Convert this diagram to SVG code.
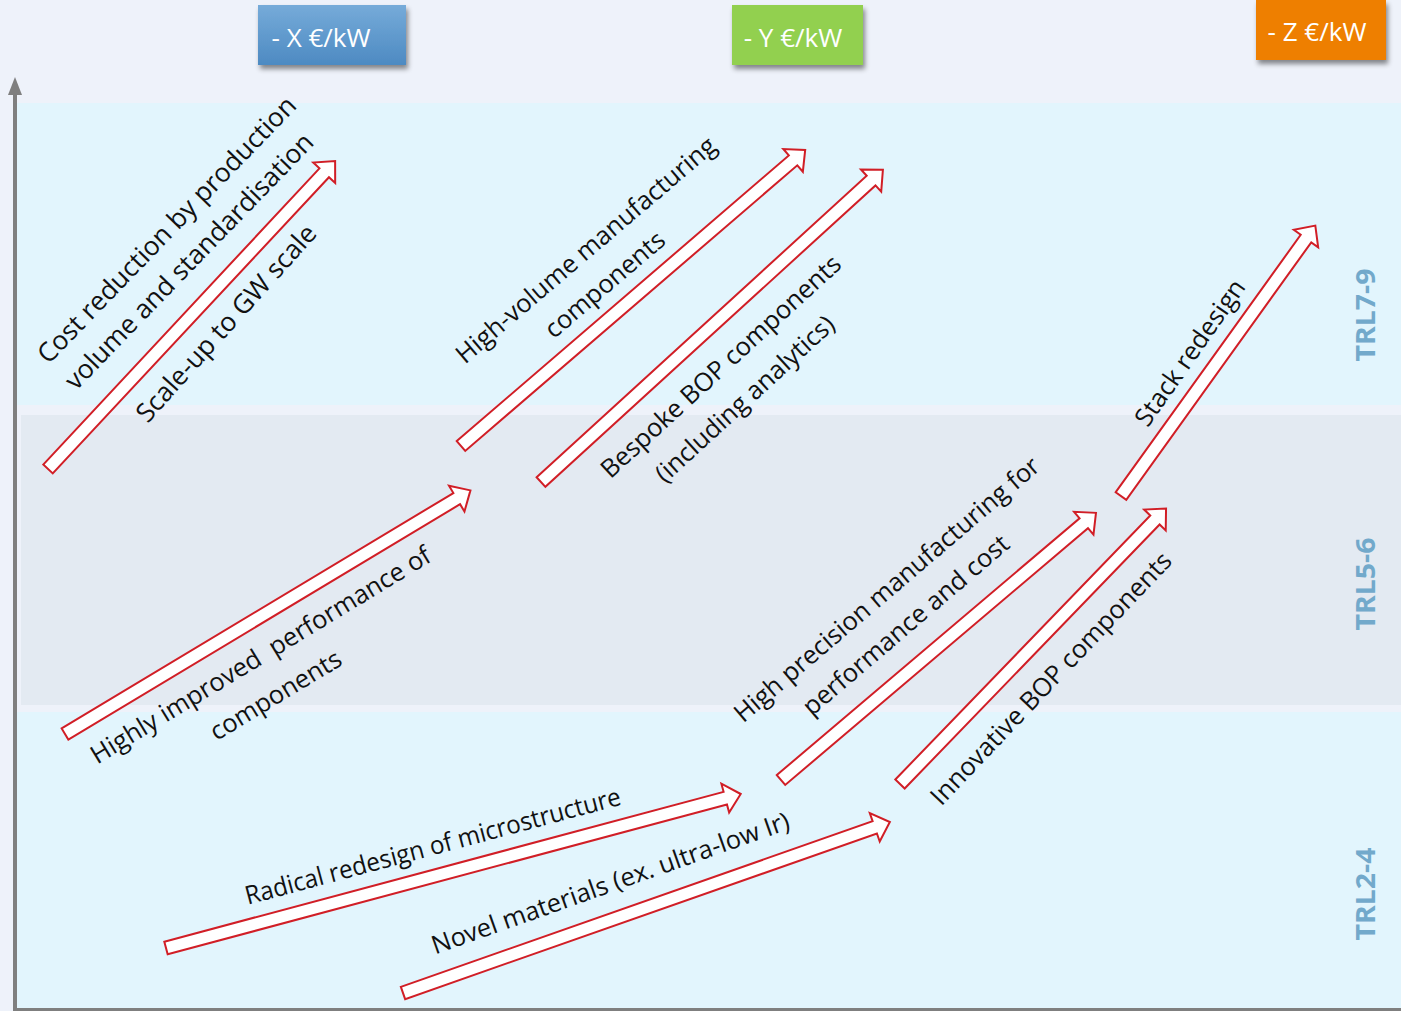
<svg xmlns="http://www.w3.org/2000/svg" width="1401" height="1011" viewBox="0 0 1401 1011">
<defs>
<linearGradient id="gBlue" x1="0" y1="0" x2="0" y2="1"><stop offset="0" stop-color="#76ABD9"/><stop offset="1" stop-color="#4D8AC2"/></linearGradient>
<filter id="sh" x="-10%" y="-10%" width="130%" height="140%"><feDropShadow dx="2" dy="4" stdDeviation="2.5" flood-color="#000" flood-opacity="0.45"/></filter>
</defs>
<style>
.band1{fill:#E2F5FD}
.band2{fill:#E3EAF2}
.arr{fill:#FFFFFF;stroke:#D11E26;stroke-width:2;stroke-linejoin:miter}
.lbl{font-family:"Open Sans","DejaVu Sans",sans-serif;font-size:25.5px;fill:#111;text-anchor:middle;dominant-baseline:central}
.big{font-size:26.4px}
.cost{font-family:"Open Sans","DejaVu Sans",sans-serif;font-size:26px;fill:#fff;text-anchor:middle;dominant-baseline:central}
.trl{font-family:"Open Sans","DejaVu Sans",sans-serif;font-size:27px;font-weight:bold;fill:#72A9CB;text-anchor:middle;dominant-baseline:central}
</style>
<rect x="0" y="0" width="1401" height="1011" fill="#EEF2FA"/>
<g id="bands">
<rect class="band1" x="17" y="103" width="1384" height="302"/>
<rect class="band2" x="21" y="415" width="1380" height="290"/>
<rect class="band1" x="17" y="712" width="1384" height="296"/>
</g>
<g id="axes">
<line x1="15" y1="93" x2="15" y2="1010" stroke="#7F7F7F" stroke-width="4"/>
<polygon points="15,77 8,95 22,95" fill="#7F7F7F"/>
<line x1="13" y1="1009.5" x2="1401" y2="1009.5" stroke="#7F7F7F" stroke-width="3"/>
</g>
<g id="cost-x"><rect x="258" y="5" width="148" height="60" fill="url(#gBlue)" filter="url(#sh)"/><text class="cost" x="321" y="37">- X €/kW</text></g>
<g id="cost-y"><rect x="732" y="5" width="131" height="60" fill="#92D050" filter="url(#sh)"/><text class="cost" x="793" y="37">- Y €/kW</text></g>
<g id="cost-z"><rect x="1256" y="0" width="130" height="60" fill="#EE7F00" filter="url(#sh)"/><text class="cost" x="1317" y="31">- Z €/kW</text></g>
<g id="trl">
<text class="trl" transform="translate(1364,315) rotate(-90)" textLength="93" lengthAdjust="spacingAndGlyphs">TRL7-9</text>
<text class="trl" transform="translate(1364,584) rotate(-90)" textLength="93" lengthAdjust="spacingAndGlyphs">TRL5-6</text>
<text class="trl" transform="translate(1364,894) rotate(-90)" textLength="93" lengthAdjust="spacingAndGlyphs">TRL2-4</text>
</g>
<g id="connectors">
<path id="arrA" class="arr" transform="translate(48,469) rotate(-47)" d="M0,-6.5 L405,-6.5 L405,-15 L421,0 L405,15 L405,6.5 L0,6.5 Z"/>
<path id="arrB" class="arr" transform="translate(461,446) rotate(-40.7)" d="M0,-6.5 L438,-6.5 L438,-15 L454,0 L438,15 L438,6.5 L0,6.5 Z"/>
<path id="arrC" class="arr" transform="translate(541,482) rotate(-42.4)" d="M0,-6.5 L447,-6.5 L447,-15 L463,0 L447,15 L447,6.5 L0,6.5 Z"/>
<path id="arrD" class="arr" transform="translate(65,734) rotate(-31)" d="M0,-6.5 L457,-6.5 L457,-15 L473,0 L457,15 L457,6.5 L0,6.5 Z"/>
<path id="arrE" class="arr" transform="translate(1121,496) rotate(-54.3)" d="M0,-6.5 L317,-6.5 L317,-15 L333,0 L317,15 L317,6.5 L0,6.5 Z"/>
<path id="arrF" class="arr" transform="translate(781,780) rotate(-40.3)" d="M0,-6.5 L397,-6.5 L397,-15 L413,0 L397,15 L397,6.5 L0,6.5 Z"/>
<path id="arrG" class="arr" transform="translate(900,784) rotate(-46)" d="M0,-6.5 L367,-6.5 L367,-15 L383,0 L367,15 L367,6.5 L0,6.5 Z"/>
<path id="arrH" class="arr" transform="translate(166,948) rotate(-15)" d="M0,-6.5 L579,-6.5 L579,-15 L595,0 L579,15 L579,6.5 L0,6.5 Z"/>
<path id="arrI" class="arr" transform="translate(403,993) rotate(-19.35)" d="M0,-6.5 L500,-6.5 L500,-15 L516,0 L500,15 L500,6.5 L0,6.5 Z"/>
</g>
<g id="label-cost-reduction">
<text class="lbl big" transform="translate(166,229) rotate(-46)">Cost reduction by production</text>
<text class="lbl big" transform="translate(188.5,260.5) rotate(-46)">volume and standardisation</text>
</g>
<g id="label-scale-up"><text class="lbl big" transform="translate(225.5,322.5) rotate(-48)">Scale-up to GW scale</text></g>
<g id="label-high-volume">
<text class="lbl" transform="translate(585,249) rotate(-40.5)">High-volume manufacturing</text>
<text class="lbl" transform="translate(604,283.5) rotate(-40.5)">components</text>
</g>
<g id="label-bespoke">
<text class="lbl" transform="translate(720,365.5) rotate(-42.5)">Bespoke BOP components</text>
<text class="lbl" transform="translate(744,398) rotate(-42.5)" font-size="26.5">(including analytics)</text>
</g>
<g id="label-highly-improved">
<text class="lbl" transform="translate(260,654) rotate(-31.3)" style="white-space:pre" font-size="25">Highly improved  performance of</text>
<text class="lbl" transform="translate(275,694) rotate(-31.3)" font-size="25">components</text>
</g>
<g id="label-stack"><text class="lbl" transform="translate(1189,352) rotate(-55)" font-size="26.5">Stack redesign</text></g>
<g id="label-high-precision">
<text class="lbl" transform="translate(886,588.5) rotate(-40.5)">High precision manufacturing for</text>
<text class="lbl" transform="translate(905,624) rotate(-40.5)">performance and cost</text>
</g>
<g id="label-innovative"><text class="lbl" transform="translate(1050,677.5) rotate(-46.5)" font-size="26">Innovative BOP components</text></g>
<g id="label-radical"><text class="lbl" transform="translate(432.5,845) rotate(-15)" font-size="25" textLength="388" lengthAdjust="spacingAndGlyphs">Radical redesign of microstructure</text></g>
<g id="label-novel"><text class="lbl" transform="translate(610,882) rotate(-19.5)" font-size="24.5">Novel materials (ex. ultra-low Ir)</text></g>
</svg>
